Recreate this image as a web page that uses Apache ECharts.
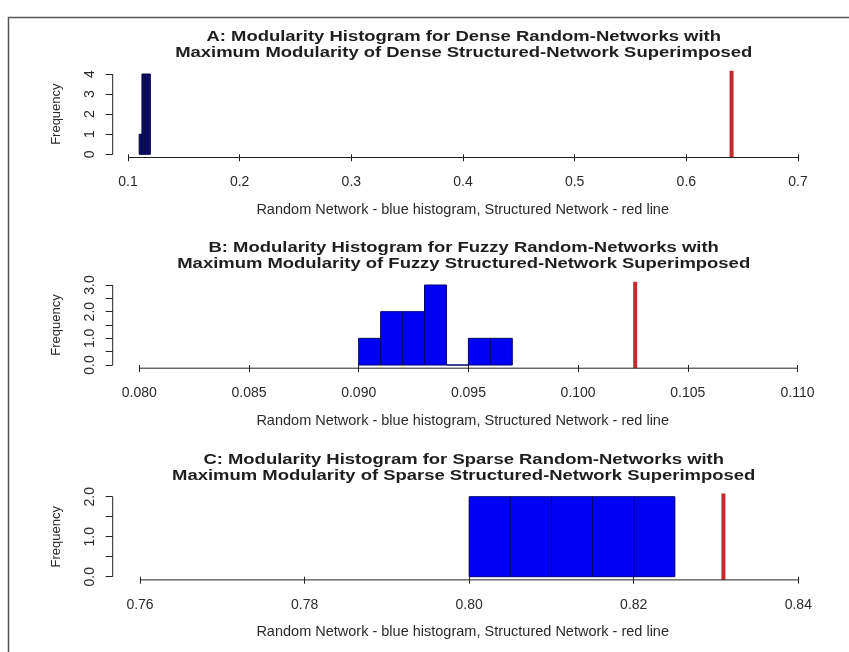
<!DOCTYPE html>
<html>
<head>
<meta charset="utf-8">
<script src="https://cdn.jsdelivr.net/npm/echarts@6/dist/echarts.min.js"></script>
<style>
html,body{margin:0;padding:0;background:#fff;}
#chart{width:849px;height:652px;}
</style>
</head>
<body>
<div id="chart"></div>
<script>
// ---- Data ----
const titleA = ['A: Modularity Histogram for Dense Random-Networks with', 'Maximum Modularity of Dense Structured-Network Superimposed'];
const titleB = ['B: Modularity Histogram for Fuzzy Random-Networks with', 'Maximum Modularity of Fuzzy Structured-Network Superimposed'];
const titleC = ['C: Modularity Histogram for Sparse Random-Networks with', 'Maximum Modularity of Sparse Structured-Network Superimposed'];
const xTitle = 'Random Network - blue histogram, Structured Network - red line';
const yTitle = 'Frequency';

const edgesA = [0.110, 0.1125, 0.115, 0.1175, 0.120];
const countsA = [1, 4, 4, 4];
const redA = 0.6405;
const xTicksA = [0.1, 0.2, 0.3, 0.4, 0.5, 0.6, 0.7];
const yTicksA = [0, 1, 2, 3, 4];
const yLabelsA = [0, 1, 2, 3, 4];

const edgesB = [0.090, 0.091, 0.092, 0.093, 0.094, 0.095, 0.096, 0.097];
const countsB = [1, 2, 2, 3, 0, 1, 1];
const redB = 0.1026;
const xTicksB = [0.080, 0.085, 0.090, 0.095, 0.100, 0.105, 0.110];
const yTicksB = [0, 0.5, 1, 1.5, 2, 2.5, 3];
const yLabelsB = [0, 1, 2, 3];

const edgesC = [0.800, 0.805, 0.810, 0.815, 0.820, 0.825];
const countsC = [2, 2, 2, 2, 2];
const redC = 0.8309;
const xTicksC = [0.76, 0.78, 0.80, 0.82, 0.84];
const yTicksC = [0, 0.5, 1, 1.5, 2];
const yLabelsC = [0, 1, 2];

// ---- Layout / style ----
const FONT = '"Liberation Sans", Arial, Helvetica, sans-serif';
const panels = [
  {title: titleA, edges: edgesA, counts: countsA, red: redA, xTicks: xTicksA, yTicks: yTicksA, yLabels: yLabelsA,
   xMin: 0.0863, xMax: 0.71316, yMin: -0.16, yMax: 4.16, xDec: 1, yDec: 0, top: 70.8, height: 86.7,
   fill: '#0c0c72', stroke: '#050540'},
  {title: titleB, edges: edgesB, counts: countsB, red: redB, xTicks: xTicksB, yTicks: yTicksB, yLabels: yLabelsB,
   xMin: 0.07879, xMax: 0.11069, yMin: -0.12, yMax: 3.12, xDec: 3, yDec: 1, top: 281.8, height: 86.4,
   fill: '#0000f5', stroke: '#000070'},
  {title: titleC, edges: edgesC, counts: countsC, red: redC, xTicks: xTicksC, yTicks: yTicksC, yLabels: yLabelsC,
   xMin: 0.75668, xMax: 0.84175, yMin: -0.08, yMax: 2.08, xDec: 2, yDec: 1, top: 493.5, height: 86.4,
   fill: '#0000f5', stroke: '#000070'}
];
const GRID_LEFT = 112.7, GRID_W = 700;
const AXIS_COLOR = '#222';
const TEXT_COLOR = '#2a2a2a';

const grids = [], xAxes = [], yAxes = [], series = [], graphics = [];

panels.forEach((p, i) => {
  grids.push({left: GRID_LEFT, top: p.top, width: GRID_W, height: p.height, containLabel: false});
  xAxes.push({
    type: 'value', gridIndex: i, min: p.xMin, max: p.xMax,
    axisLine: {show: false}, splitLine: {show: false},
    axisTick: {show: true, length: 7, customValues: p.xTicks, lineStyle: {color: AXIS_COLOR, width: 1}},
    axisLabel: {show: true, customValues: p.xTicks, margin: 18, fontSize: 14, fontFamily: FONT, color: TEXT_COLOR,
      formatter: v => Number(v).toFixed(p.xDec)},
    name: xTitle, nameLocation: 'middle', nameGap: 45,
    nameTextStyle: {fontSize: 14.5, fontFamily: FONT, color: TEXT_COLOR}
  });
  yAxes.push({
    type: 'value', gridIndex: i, min: p.yMin, max: p.yMax,
    axisLine: {show: false}, splitLine: {show: false},
    axisTick: {show: true, length: 7, customValues: p.yTicks, lineStyle: {color: AXIS_COLOR, width: 1}},
    axisLabel: {show: true, customValues: p.yLabels, rotate: 90, margin: 16, fontSize: 14, fontFamily: FONT, color: TEXT_COLOR,
      formatter: v => Number(v).toFixed(p.yDec)},
    name: yTitle, nameLocation: 'middle', nameGap: 50, nameRotate: 90,
    nameTextStyle: {fontSize: 13, fontFamily: FONT, color: TEXT_COLOR}
  });
  // histogram bars
  const barData = p.counts.map((c, k) => [p.edges[k], p.edges[k + 1], c]);
  series.push({
    type: 'custom', xAxisIndex: i, yAxisIndex: i, silent: true,
    data: barData, encode: {x: [0, 1], y: 2},
    renderItem: function (params, api) {
      const a = api.coord([api.value(0), 0]);
      const b = api.coord([api.value(1), api.value(2)]);
      return {type: 'rect', shape: {x: a[0], y: b[1], width: b[0] - a[0], height: a[1] - b[1]},
        style: {fill: p.fill, stroke: p.stroke, lineWidth: 1}};
    }
  });
  // red structured-network line across the plot region
  series.push({
    type: 'line', xAxisIndex: i, yAxisIndex: i, silent: true, clip: false, symbol: 'none',
    data: [[p.red, p.yMin], [p.red, p.yMax]],
    lineStyle: {color: '#c62a2e', width: 4}
  });
  // R-style axis lines (from first to last tick)
  series.push({
    type: 'line', xAxisIndex: i, yAxisIndex: i, silent: true, clip: false, symbol: 'none',
    data: [[p.xTicks[0], p.yMin], [p.xTicks[p.xTicks.length - 1], p.yMin]],
    lineStyle: {color: AXIS_COLOR, width: 1}
  });
  series.push({
    type: 'line', xAxisIndex: i, yAxisIndex: i, silent: true, clip: false, symbol: 'none',
    data: [[p.xMin, p.yTicks[0]], [p.xMin, p.yTicks[p.yTicks.length - 1]]],
    lineStyle: {color: AXIS_COLOR, width: 1}
  });
  // two-line bold titles (slightly wide, as in the original raster)
  graphics.push({
    type: 'text', x: GRID_LEFT + GRID_W / 2 + 1, y: p.top - 26, scaleX: 1.19, silent: true,
    style: {text: p.title.join('\n'), x: 0, y: 0, textAlign: 'center', textVerticalAlign: 'middle',
      font: 'bold 15.5px ' + FONT, lineHeight: 16.5, fill: '#1e1e1e'}
  });
});

// outer frame
graphics.push({type: 'rect', silent: true, shape: {x: 8.5, y: 17.5, width: 900, height: 700},
  style: {fill: null, stroke: '#555', lineWidth: 1.5}});

const chart = echarts.init(document.getElementById('chart'), null, {renderer: 'canvas'});
chart.setOption({
  animation: false,
  backgroundColor: '#fff',
  grid: grids, xAxis: xAxes, yAxis: yAxes, series: series,
  graphic: graphics
});
</script>
</body>
</html>
